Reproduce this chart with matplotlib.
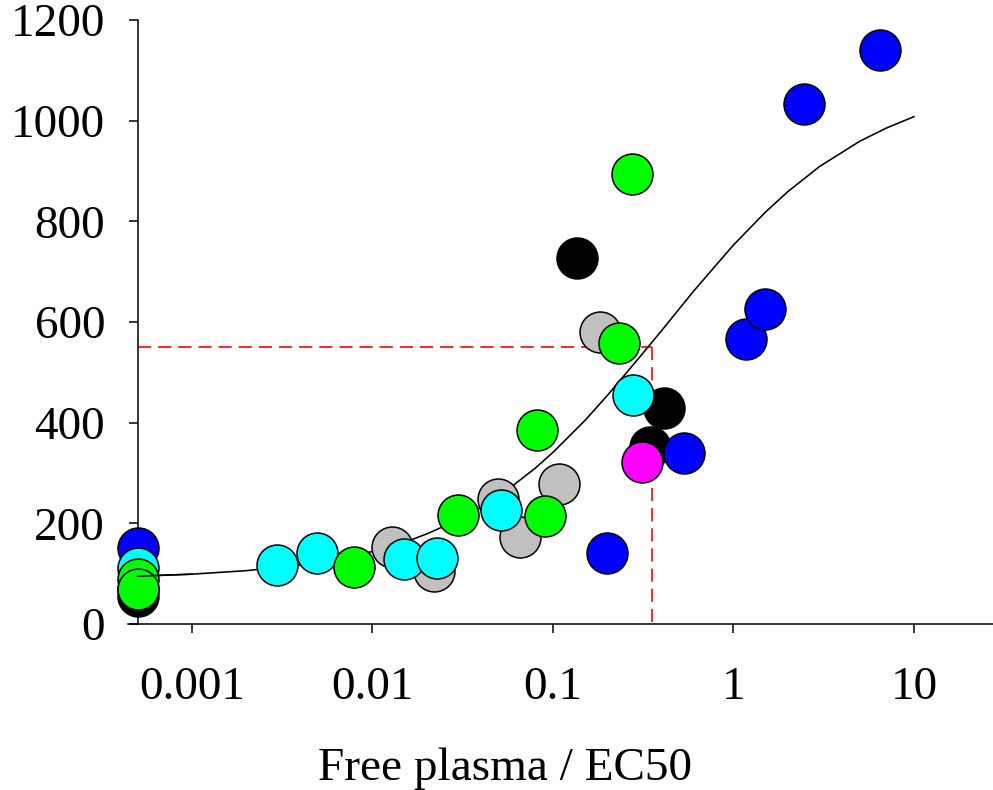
import matplotlib
matplotlib.use("Agg")
import matplotlib.pyplot as plt
from matplotlib.ticker import FixedLocator, NullLocator

plt.rcParams['font.family'] = ['Liberation Serif', 'DejaVu Serif']
plt.rcParams['lines.scale_dashes'] = False

# zero-dose points are drawn at the y axis (x = 0.0005)
black_x = [0.0005, 0.135, 0.343, 0.41]
black_y = [56, 727, 352, 429]

gray_x = [0.0128, 0.0218, 0.0495, 0.0653, 0.108, 0.181]
gray_y = [153, 106, 249, 173, 279, 580]

red_x = [0.0005]
red_y = [70]

magenta_x = [0.313]
magenta_y = [322]

blue_x = [0.0005, 0.198, 0.535, 1.17, 1.50, 2.47, 6.5]
blue_y = [151, 141, 340, 566, 626, 1033, 1140]

cyan_x = [0.0005, 0.00297, 0.00495, 0.0149, 0.0227, 0.0515, 0.279]
cyan_y = [111, 117, 142, 129, 131, 226, 455]

green_x = [0.0005, 0.0005, 0.0079, 0.0298, 0.0815, 0.090, 0.233, 0.274]
green_y = [89, 69, 114, 216, 385, 214, 559, 895]

# fitted curve
curve_x = [0.0005, 0.001, 0.002, 0.004, 0.007, 0.01, 0.015, 0.02, 0.03, 0.04,
           0.06, 0.08, 0.1, 0.15, 0.2, 0.3, 0.4, 0.6, 1.0, 1.5, 2.0, 3.0,
           5.0, 7.0, 10.0]
curve_y = [95, 99, 106, 117, 132, 144, 162, 179, 207, 232, 275, 310, 341,
           404, 454, 529, 583, 661, 753, 818, 859, 909, 959, 985, 1008]

ec50_x = 0.352
ec50_y = 550

xticks = [0.001, 0.01, 0.1, 1, 10]
xtick_labels = ['0.001', '0.01', '0.1', '1', '10']
yticks = [0, 200, 400, 600, 800, 1000, 1200]

fig = plt.figure(figsize=(9.93, 7.90), dpi=100)
ax = fig.add_axes([128 / 993, 166 / 790, 865 / 993, 604 / 790])
ax.set_xscale('log')
ax.set_xlim(0.000442, 27.4)
ax.set_ylim(0, 1200)

# red dashed guide lines to the EC50 point
ax.plot([0.0005, ec50_x], [ec50_y, ec50_y], color='#ff0000', lw=1.2,
        dashes=(9.5, 5), zorder=1)
ax.plot([ec50_x, ec50_x], [ec50_y, 0], color='#ff0000', lw=1.2,
        dashes=(9.5, 5), zorder=1)

ax.plot(curve_x, curve_y, color='black', lw=1.15, zorder=2)

groups = [
    (black_x, black_y, '#000000'),
    (gray_x, gray_y, '#c0c0c0'),
    (red_x, red_y, '#ff0000'),
    (magenta_x, magenta_y, '#ff00ff'),
    (blue_x, blue_y, '#0000ff'),
    (cyan_x, cyan_y, '#00ffff'),
    (green_x, green_y, '#00ff00'),
]
z = 3
for gx, gy, col in groups:
    ax.scatter(gx, gy, s=870, c=col, edgecolors='black', linewidths=1.1,
               zorder=z, clip_on=False)
    z += 1
# the curve sits over the zero-dose stack on the left
ax.plot(curve_x[:2], curve_y[:2], color='black', lw=1.15, zorder=20)

ax.spines['top'].set_visible(False)
ax.spines['right'].set_visible(False)
ax.spines['left'].set_position(('data', 0.0005))
ax.spines['left'].set_bounds(0, 1200)
for s in ['left', 'bottom']:
    ax.spines[s].set_linewidth(1.1)

ax.xaxis.set_major_locator(FixedLocator(xticks))
ax.xaxis.set_minor_locator(NullLocator())
ax.set_xticklabels(xtick_labels)
ax.set_yticks(yticks)
ax.tick_params(axis='both', direction='out', length=6.5, width=1.1,
               labelsize=34)
ax.tick_params(axis='y', pad=17)
ax.tick_params(axis='x', pad=24)

ax.set_xlabel('Free plasma / EC50', fontsize=34)
ax.xaxis.set_label_coords(0.436, -0.205)

fig.savefig('out.png', dpi=100)
